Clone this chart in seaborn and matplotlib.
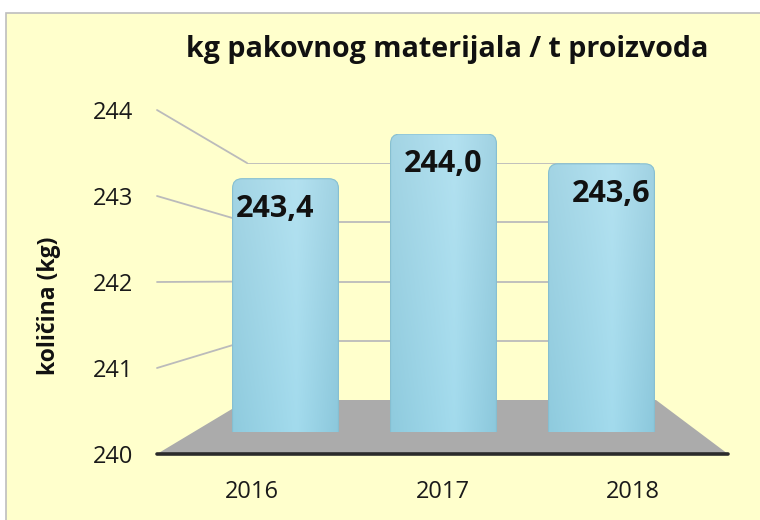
import numpy as np
import pandas as pd
import matplotlib.pyplot as plt
import seaborn as sns
from matplotlib.patches import Rectangle, Polygon, FancyBboxPatch
from matplotlib.lines import Line2D
from matplotlib.colors import to_rgb

# data
godine = ["2016", "2017", "2018"]
kolicina = [243.4, 244.0, 243.6]
oznake = ["243,4", "244,0", "243,6"]
y_ticks = [240, 241, 242, 243, 244]

sns.set_theme(style="white")
plt.rcParams['font.family'] = ['Open Sans', 'DejaVu Sans']

df = pd.DataFrame({"godina": godine, "kg": kolicina})

W, H = 760, 520
fig = plt.figure(figsize=(W / 100, H / 100), dpi=100, facecolor="white")


def fx(px):
    return px / W


def fy(py):
    return 1 - py / H


def front_y(v):
    # front plane of the pseudo 3D box (tick labels)
    return fy(454) + (v - 240) / 4 * (454 - 110) / H


def back_y(v):
    # back wall of the pseudo 3D box (grid lines)
    return fy(400) + (v - 240) / 4 * (400 - 163) / H


# yellow panel, grey border on top and left
fig.patches.append(Rectangle((fx(6), -0.05), 1.1, fy(13) + 0.05,
                             transform=fig.transFigure, facecolor="#FFFFCC",
                             edgecolor="#BEBEBE", lw=1.2, zorder=-1))

# front axes: tick labels, floor
ax_f = fig.add_axes([fx(157), fy(454), (728 - 157) / W, (454 - 110) / H])
ax_f.set_xlim(-0.5, 2.5)
ax_f.set_ylim(240, 244)
ax_f.set_yticks(y_ticks)
ax_f.set_yticklabels([str(t) for t in y_ticks])
ax_f.set_xticks(range(len(godine)))
ax_f.set_xticklabels(godine)
ax_f.patch.set_alpha(0)
for sp in ax_f.spines.values():
    sp.set_visible(False)
ax_f.tick_params(length=0, labelsize=17, colors="#1a1a1a")
ax_f.tick_params(axis="y", pad=17)
ax_f.tick_params(axis="x", pad=19)
ax_f.set_zorder(0)

floor = Polygon([(fx(157), fy(454)), (fx(247), fy(400)), (fx(656), fy(400)),
                 (fx(728), fy(454))], closed=True, transform=fig.transFigure,
                facecolor="#ABABAB", edgecolor="none", clip_on=False)
ax_f.add_artist(floor)
ax_f.add_artist(Line2D([fx(157), fx(728)], [fy(454), fy(454)],
                       transform=fig.transFigure, color="#2b2b2b", lw=2.6,
                       clip_on=False))
for v in y_ticks[1:]:
    ax_f.add_artist(Line2D([fx(157), fx(247)], [front_y(v), back_y(v)],
                           transform=fig.transFigure, color="#BBBBBB", lw=1.3,
                           clip_on=False))

# back wall grid lines
ax_b = fig.add_axes([fx(247), fy(400), (640 - 247) / W, (400 - 163) / H])
ax_b.set_ylim(240, 244)
ax_b.set_xlim(0, 1)
ax_b.axis("off")
ax_b.set_zorder(1)
for v in y_ticks[1:]:
    ax_b.axhline(v, color="#BBBBBB", lw=1.3)

# bars
ax = fig.add_axes([fx(206.5), fy(432), 474 / W, (432 - 134) / H])
ax.set_zorder(2)
sns.barplot(data=df, x="godina", y="kg", color="#9DD6E9", width=0.67, ax=ax)
ax.set_ylim(240, 244)
ax.set_xlim(-0.5, 2.5)
ax.axis("off")

# soft shading for the bars
c_left = np.array(to_rgb("#8fcbde"))
c_mid = np.array(to_rgb("#a3dbed"))
c_right = np.array(to_rgb("#8cc8dc"))
t = np.linspace(0, 1, 64)
prof = np.where(t[:, None] < 0.6,
                c_left + (c_mid - c_left) * (t[:, None] / 0.6),
                c_mid + (c_right - c_mid) * ((t[:, None] - 0.6) / 0.4))
rows = np.linspace(0.18, 0, 48)[:, None, None]
img = prof[None, :, :] * (1 - rows) + rows
img = np.clip(img, 0, 1)

bars = list(ax.patches)
for i, (p, lab) in enumerate(zip(bars, oznake)):
    x0, w, top = p.get_x(), p.get_width(), p.get_height()
    p.set_visible(False)
    box = FancyBboxPatch((x0, 239), w, top - 239,
                         boxstyle="round,pad=0,rounding_size=0.06",
                         mutation_aspect=2.12, facecolor="none",
                         edgecolor="#86bfd1", lw=0.8, zorder=3)
    ax.add_patch(box)
    im = ax.imshow(img, extent=[x0, x0 + w, 240, top], aspect="auto",
                   interpolation="bicubic", zorder=2)
    im.set_clip_path(box)
    ax.annotate(lab, xy=(x0 + w / 2, top), xytext=((i - 1) * 7.2, -11),
                textcoords="offset points", ha="center", va="top",
                fontsize=22, fontweight="bold", color="#111111", zorder=4)

ax.set_ylim(240, 244)
ax.set_xlim(-0.5, 2.5)

fig.text(fx(447.5), fy(57), "kg pakovnog materijala / t proizvoda",
         ha="center", va="baseline", fontsize=20.6, fontweight="bold",
         color="#111111")
fig.text(fx(49), fy(306), "količina (kg)", rotation=90, ha="center",
         va="center", fontsize=16.5, fontweight="bold", color="#111111")

fig.savefig("out.png", dpi=100, facecolor=fig.get_facecolor())
